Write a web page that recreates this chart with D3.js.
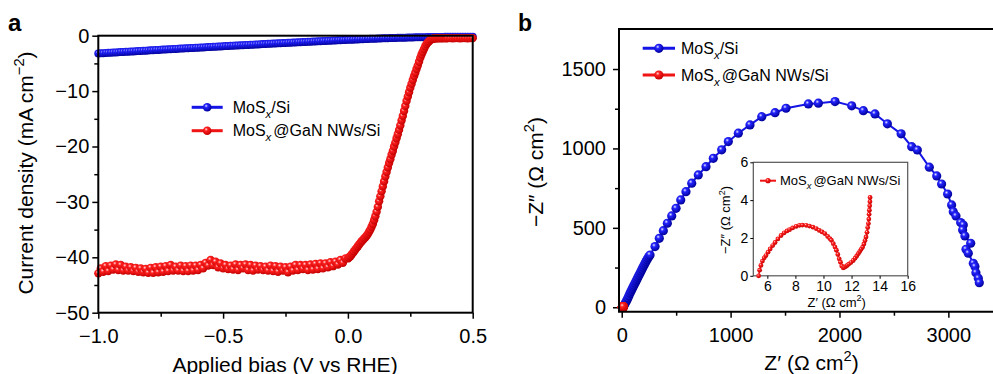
<!DOCTYPE html>
<html>
<head>
<meta charset="utf-8">
<script src="https://cdn.jsdelivr.net/npm/d3@7"></script>
<style>
  body { margin: 0; background: #fff; }
  svg { display: block; }
</style>
</head>
<body>
<svg id="fig" width="993" height="374"></svg>
<script>
// ---- panel a: LSV curves (V vs RHE, mA cm-2) ----
const biasBlue = [
  -1, -0.99, -0.98, -0.97, -0.96, -0.95, -0.94, -0.93, -0.92, -0.91,
  -0.9, -0.89, -0.88, -0.87, -0.86, -0.85, -0.84, -0.83, -0.82, -0.81,
  -0.8, -0.79, -0.78, -0.77, -0.76, -0.75, -0.74, -0.73, -0.72, -0.71,
  -0.7, -0.69, -0.68, -0.67, -0.66, -0.65, -0.64, -0.63, -0.62, -0.61,
  -0.6, -0.59, -0.58, -0.57, -0.56, -0.55, -0.54, -0.53, -0.52, -0.51,
  -0.5, -0.49, -0.48, -0.47, -0.46, -0.45, -0.44, -0.43, -0.42, -0.41,
  -0.4, -0.39, -0.38, -0.37, -0.36, -0.35, -0.34, -0.33, -0.32, -0.31,
  -0.3, -0.29, -0.28, -0.27, -0.26, -0.25, -0.24, -0.23, -0.22, -0.21,
  -0.2, -0.19, -0.18, -0.17, -0.16, -0.15, -0.14, -0.13, -0.12, -0.11,
  -0.1, -0.09, -0.08, -0.07, -0.06, -0.05, -0.04, -0.03, -0.02, -0.01,
  0, 0.01, 0.02, 0.03, 0.04, 0.05, 0.06, 0.07, 0.08, 0.09,
  0.1, 0.11, 0.12, 0.13, 0.14, 0.15, 0.16, 0.17, 0.18, 0.19,
  0.2, 0.21, 0.22, 0.23, 0.24, 0.25, 0.26, 0.27, 0.28, 0.29,
  0.3, 0.31, 0.32, 0.33, 0.34, 0.35, 0.36, 0.37, 0.38, 0.39,
  0.4, 0.41, 0.42, 0.43, 0.44, 0.45, 0.46, 0.47, 0.48, 0.49, 0.5
];
const jBlue = [
  -3.20, -3.17, -3.15, -3.12, -3.09, -3.07, -3.04, -3.01, -2.99, -2.96,
  -2.93, -2.91, -2.88, -2.85, -2.83, -2.80, -2.77, -2.75, -2.72, -2.70,
  -2.67, -2.64, -2.62, -2.59, -2.57, -2.54, -2.51, -2.49, -2.46, -2.44,
  -2.41, -2.38, -2.36, -2.33, -2.31, -2.28, -2.26, -2.23, -2.21, -2.18,
  -2.16, -2.13, -2.11, -2.08, -2.06, -2.03, -2.01, -1.98, -1.96, -1.93,
  -1.91, -1.88, -1.86, -1.83, -1.81, -1.79, -1.76, -1.74, -1.71, -1.69,
  -1.66, -1.64, -1.62, -1.59, -1.57, -1.54, -1.52, -1.50, -1.47, -1.45,
  -1.43, -1.40, -1.38, -1.36, -1.33, -1.31, -1.29, -1.26, -1.24, -1.22,
  -1.19, -1.17, -1.15, -1.12, -1.10, -1.08, -1.06, -1.03, -1.01, -0.99,
  -0.97, -0.94, -0.92, -0.90, -0.88, -0.85, -0.83, -0.81, -0.79, -0.77,
  -0.75, -0.73, -0.71, -0.69, -0.67, -0.65, -0.63, -0.61, -0.59, -0.57,
  -0.55, -0.53, -0.51, -0.50, -0.48, -0.46, -0.45, -0.43, -0.42, -0.40,
  -0.39, -0.37, -0.36, -0.35, -0.34, -0.32, -0.31, -0.30, -0.29, -0.28,
  -0.27, -0.26, -0.25, -0.25, -0.24, -0.23, -0.23, -0.22, -0.22, -0.21,
  -0.21, -0.20, -0.20, -0.20, -0.19, -0.19, -0.19, -0.18, -0.18, -0.18, -0.18
];
// red sweep is sampled finer through the onset
const biasRedFine = [
  0, 0.005, 0.01, 0.015, 0.02, 0.025, 0.03, 0.035, 0.04, 0.045,
  0.05, 0.055, 0.06, 0.065, 0.07, 0.075, 0.08, 0.085, 0.09, 0.095,
  0.1, 0.105, 0.11, 0.115, 0.12, 0.125, 0.13, 0.135, 0.14, 0.145,
  0.15, 0.155, 0.16, 0.165, 0.17, 0.175, 0.18, 0.185, 0.19, 0.195,
  0.2, 0.205, 0.21, 0.215, 0.22, 0.225, 0.23, 0.235, 0.24, 0.245,
  0.25, 0.255, 0.26, 0.265, 0.27, 0.275, 0.28, 0.285, 0.29, 0.295,
  0.3, 0.305, 0.31, 0.315, 0.32, 0.325, 0.33, 0.335, 0.34, 0.345,
  0.35, 0.355, 0.36, 0.365, 0.37, 0.375, 0.38, 0.385, 0.39, 0.395,
  0.4, 0.41, 0.42, 0.43, 0.44, 0.45, 0.46, 0.47, 0.48, 0.49, 0.5
];
const biasRed = biasBlue.slice(0, 100).concat(biasRedFine);
// plateau is noisy point to point, hence the zig-zag
const jRed = [
  -42.9, -42.0, -42.6, -41.6, -42.5, -41.5, -42.2, -41.3, -42.3, -41.4,
  -42.4, -41.7, -42.4, -41.8, -42.5, -41.9, -42.6, -42.0, -42.7, -42.1,
  -42.8, -41.9, -42.8, -41.8, -42.7, -41.7, -42.6, -41.6, -42.5, -41.4,
  -42.4, -41.7, -42.4, -41.5, -42.5, -41.6, -42.5, -41.5, -42.4, -41.5,
  -42.3, -41.4, -42.0, -41.0, -41.5, -40.5, -41.4, -40.8, -41.8, -41.1,
  -42.0, -41.4, -42.1, -41.5, -42.2, -41.3, -42.3, -41.4, -42.0, -41.3,
  -42.3, -41.4, -42.4, -41.5, -42.2, -41.6, -42.3, -41.7, -42.4, -41.5,
  -42.5, -41.6, -42.6, -41.7, -42.4, -41.8, -42.7, -41.7, -42.4, -41.4,
  -42.3, -41.4, -42.1, -41.4, -42.3, -41.3, -42.2, -41.2, -42.1, -41.1,
  -42.0, -41.1, -41.8, -40.9, -41.6, -40.8, -41.3, -40.5, -41.0, -40.2,
  -40.2, -40.0, -39.8, -39.5, -39.2, -38.9, -38.6, -38.3, -38.0, -37.7,
  -37.4, -37.1, -36.9, -36.6, -36.4, -36.1, -35.8, -35.4, -35.0, -34.5,
  -34.0, -33.3, -32.6, -31.8, -30.9, -29.9, -29.0, -28.1, -27.2, -26.3,
  -25.4, -24.6, -23.8, -23.0, -22.3, -21.5, -20.8, -20.0, -19.3, -18.5,
  -17.8, -17.0, -16.2, -15.3, -14.5, -13.6, -12.7, -11.8, -11.0, -10.2,
  -9.4, -8.7, -8.0, -7.3, -6.7, -6.0, -5.4, -4.7, -4.0, -3.4,
  -2.9, -2.4, -1.9, -1.5, -1.2, -1.0, -0.8, -0.65, -0.55, -0.5,
  -0.47, -0.45, -0.45, -0.44, -0.45, -0.44, -0.45, -0.44, -0.44, -0.45,
  -0.44, -0.44, -0.45, -0.44, -0.44, -0.45, -0.44, -0.44, -0.45, -0.44, -0.44
];
const biasTicks = [-1, -0.5, 0, 0.5];
const biasMinor = [-0.75, -0.25, 0.25];
const jTicks = [0, -10, -20, -30, -40, -50];
const jMinor = [-5, -15, -25, -35, -45];

// ---- panel b: Nyquist plots (ohm cm2) ----
const reBlue = [
  15, 22, 30, 40, 48, 57, 66, 76, 85, 94, 103, 112, 122, 131, 140, 149, 158, 168,
  177, 186, 195, 205, 214, 223, 232, 241, 250, 260,
  306, 345, 382, 419, 459, 499, 542, 590, 643, 703, 774, 841, 918, 979, 1071, 1178,
  1286, 1408, 1509, 1714, 1806, 1959, 2112, 2219, 2326, 2440, 2566, 2663, 2715, 2825,
  2893, 2938, 2993, 3030, 3045, 3070, 3113, 3137, 3131, 3152, 3205, 3162, 3183, 3229,
  3244, 3253, 3275, 3284
];
const imBlue = [
  4, 12, 22, 35, 46, 59, 72, 88, 100, 113, 126, 138, 151, 164, 176, 189, 201, 214,
  227, 239, 252, 265, 277, 288, 299, 310, 319, 329,
  382, 434, 482, 529, 575, 623, 676, 728, 781, 833, 885, 938, 991, 1043, 1096, 1148,
  1200, 1225, 1253, 1280, 1285, 1295, 1268, 1238, 1217, 1155, 1092, 1011, 990, 882,
  827, 776, 713, 644, 602, 575, 533, 518, 487, 449, 403, 365, 340, 277,
  256, 218, 183, 155
];
const reRed = [
  5.38, 5.45, 5.54, 5.65, 5.78, 5.9, 6.05, 6.2, 6.38, 6.55, 6.75, 6.98, 7.2, 7.4, 7.58,
  7.8, 8.05, 8.29, 8.5, 8.77, 9.0, 9.25, 9.49, 9.7, 9.9, 10.09, 10.3, 10.45, 10.56,
  10.7, 10.82, 10.92, 11.02, 11.12, 11.21, 11.3, 11.4, 11.5, 11.6, 11.69, 11.8, 11.95,
  12.12, 12.25, 12.37, 12.48, 12.58, 12.68, 12.79, 12.88, 12.96, 13.03, 13.1, 13.15,
  13.2, 13.23, 13.25, 13.27, 13.29, 13.31, 13.32
];
const imRed = [
  0.0, 0.3, 0.55, 0.78, 0.95, 1.07, 1.25, 1.42, 1.6, 1.76, 1.95, 2.13, 2.27, 2.37, 2.44,
  2.53, 2.61, 2.67, 2.68, 2.67, 2.63, 2.57, 2.49, 2.4, 2.32, 2.23, 2.08, 1.97, 1.88,
  1.7, 1.52, 1.35, 1.13, 0.9, 0.72, 0.52, 0.42, 0.45, 0.5, 0.55, 0.62, 0.7,
  0.81, 0.93, 1.05, 1.17, 1.28, 1.4, 1.52, 1.68, 1.86, 2.05, 2.3, 2.55,
  2.76, 3.0, 3.25, 3.47, 3.7, 3.92, 4.14
];
const reTicks = [0, 1000, 2000, 3000];
const reMinor = [500, 1500, 2500];
const imTicks = [0, 500, 1000, 1500];
const imMinor = [250, 750, 1250];
const insetReTicks = [6, 8, 10, 12, 14, 16];
const insetImTicks = [0, 2, 4, 6];

const FONT = '"Liberation Sans", Arial, Helvetica, sans-serif';
const BLUE = '#1414e6';
const RED = '#f01414';

const svg = d3.select('#fig').style('font-family', FONT);
const defs = svg.append('defs');

// shaded ball markers like the original
function ball(id, hi, mid, edge) {
  let g = defs.append('radialGradient').attr('id', id)
    .attr('cx', '38%').attr('cy', '34%').attr('r', '66%');
  g.append('stop').attr('offset', '0%').attr('stop-color', hi);
  g.append('stop').attr('offset', '30%').attr('stop-color', mid);
  g.append('stop').attr('offset', '100%').attr('stop-color', edge);
}
ball('ballBlue', '#e6e6ff', '#2424ff', '#00009a');
ball('ballRed', '#ffdcdc', '#ff2020', '#c40000');

function axis(g, ax, transform, fs) {
  let a = g.append('g').attr('transform', transform).call(ax);
  a.select('.domain').remove();
  a.selectAll('line').attr('stroke', '#000').attr('stroke-width', 1.5);
  a.selectAll('text').attr('fill', '#000')
    .style('font-size', fs + 'px').style('font-family', FONT);
  return a;
}

// "MoSx" with italic subscript x
function mosx(t, rest, fs) {
  t.append('tspan').text('MoS');
  t.append('tspan').attr('font-style', 'italic').attr('font-size', fs * 0.72)
    .attr('dy', fs * 0.3).text('x');
  t.append('tspan').attr('dy', -fs * 0.3).attr('dx', rest[0] === '@' ? 2 : 0).text(rest);
}

// text with a superscript chunk then a tail
function supText(t, head, sup, tail, fs) {
  t.append('tspan').text(head);
  t.append('tspan').attr('font-size', fs * 0.7).attr('dy', -fs * 0.42).text(sup);
  t.append('tspan').attr('dy', fs * 0.42).text(tail);
}

function legendRow(g, x0, x1, y, fill, stroke, r, label, fs, lw, gap) {
  g.append('line').attr('x1', x0).attr('x2', x1).attr('y1', y).attr('y2', y)
    .attr('stroke', stroke).attr('stroke-width', lw);
  g.append('circle').attr('cx', (x0 + x1) / 2).attr('cy', y).attr('r', r).attr('fill', fill);
  let t = g.append('text').attr('x', x1 + gap).attr('y', y + fs * 0.36)
    .style('font-size', fs + 'px').attr('fill', '#000');
  mosx(t, label, fs);
}

/* ================= panel a ================= */
const xA = d3.scaleLinear().domain([-1, 0.5]).range([98.3, 472.7]);
const yA = d3.scaleLinear().domain([-50, 0]).range([312.7, 35.7]);
const gA = svg.append('g').attr('class', 'panelA');

axis(gA, d3.axisBottom(xA).tickValues(biasTicks).tickFormat(d3.format('.1f')).tickSize(6).tickPadding(10),
  `translate(0,${yA(-50)})`, 20);
axis(gA, d3.axisBottom(xA).tickValues(biasMinor).tickFormat('').tickSize(4),
  `translate(0,${yA(-50)})`, 20);
axis(gA, d3.axisLeft(yA).tickValues(jTicks).tickFormat(d3.format('d')).tickSize(6).tickPadding(3),
  `translate(${xA(-1)},0)`, 20);
axis(gA, d3.axisLeft(yA).tickValues(jMinor).tickFormat('').tickSize(4),
  `translate(${xA(-1)},0)`, 20);

const ptsBlueA = biasBlue.map((v, i) => [v, jBlue[i]]);
const ptsRedA = biasRed.map((v, i) => [v, jRed[i]]);
const lineA = d3.line().x(d => xA(d[0])).y(d => yA(d[1]));

gA.append('path').datum(ptsBlueA).attr('d', lineA)
  .attr('fill', 'none').attr('stroke', BLUE).attr('stroke-width', 2);
gA.append('g').selectAll('circle').data(ptsBlueA).enter().append('circle')
  .attr('cx', d => xA(d[0])).attr('cy', d => yA(d[1])).attr('r', 4)
  .attr('fill', 'url(#ballBlue)');
gA.append('path').datum(ptsRedA).attr('d', lineA)
  .attr('fill', 'none').attr('stroke', RED).attr('stroke-width', 2);
gA.append('g').selectAll('circle').data(ptsRedA).enter().append('circle')
  .attr('cx', d => xA(d[0])).attr('cy', d => yA(d[1])).attr('r', 4.2)
  .attr('fill', 'url(#ballRed)');

gA.append('rect').attr('x', xA(-1)).attr('y', yA(0))
  .attr('width', xA(0.5) - xA(-1)).attr('height', yA(-50) - yA(0))
  .attr('fill', 'none').attr('stroke', '#000').attr('stroke-width', 2);

legendRow(gA, 191.7, 222.7, 107.3, 'url(#ballBlue)', BLUE, 4.3, '/Si', 16, 3, 10);
legendRow(gA, 191.7, 222.7, 130.7, 'url(#ballRed)', RED, 4.3, '@GaN NWs/Si', 16, 3, 10);

let tA = gA.append('text').attr('text-anchor', 'middle')
  .attr('transform', 'translate(33,173) rotate(-90)').style('font-size', '21px');
supText(tA, 'Current density (mA cm', '\u22122', ')', 21);
gA.append('text').attr('x', 285).attr('y', 371.5).attr('text-anchor', 'middle')
  .style('font-size', '21px').text('Applied bias (V vs RHE)');
gA.append('text').attr('x', 8).attr('y', 30.5).style('font-size', '24px')
  .style('font-weight', 'bold').text('a');

/* ================= panel b ================= */
const xB = d3.scaleLinear().domain([-25, 3410]).range([619, 993]);
const yB = d3.scaleLinear().domain([-28, 1752]).range([311.7, 29]);
const gB = svg.append('g').attr('class', 'panelB');

axis(gB, d3.axisBottom(xB).tickValues(reTicks).tickFormat(d3.format('d')).tickSize(6).tickPadding(10),
  `translate(0,${yB(-28)})`, 20);
axis(gB, d3.axisBottom(xB).tickValues(reMinor).tickFormat('').tickSize(4),
  `translate(0,${yB(-28)})`, 20);
axis(gB, d3.axisLeft(yB).tickValues(imTicks).tickFormat(d3.format('d')).tickSize(6).tickPadding(7),
  `translate(${xB(-25)},0)`, 20);
axis(gB, d3.axisLeft(yB).tickValues(imMinor).tickFormat('').tickSize(4),
  `translate(${xB(-25)},0)`, 20);

const ptsBlueB = reBlue.map((v, i) => [v, imBlue[i]]);
const ptsRedB = reRed.map((v, i) => [v, imRed[i]]);
const lineB = d3.line().x(d => xB(d[0])).y(d => yB(d[1]));

gB.append('path').datum(ptsBlueB).attr('d', lineB)
  .attr('fill', 'none').attr('stroke', BLUE).attr('stroke-width', 2);
gB.append('g').selectAll('circle').data(ptsBlueB).enter().append('circle')
  .attr('cx', d => xB(d[0])).attr('cy', d => yB(d[1])).attr('r', 4.6)
  .attr('fill', 'url(#ballBlue)');
gB.append('g').selectAll('circle').data(ptsRedB).enter().append('circle')
  .attr('cx', d => xB(d[0])).attr('cy', d => yB(d[1])).attr('r', 4.6)
  .attr('fill', 'url(#ballRed)');

gB.append('path')
  .attr('d', `M993,${yB(1752)}H${xB(-25)}V${yB(-28)}H993`)
  .attr('fill', 'none').attr('stroke', '#000').attr('stroke-width', 2);

legendRow(gB, 642.7, 675, 48.3, 'url(#ballBlue)', BLUE, 4.6, '/Si', 16, 3, 6);
legendRow(gB, 642.7, 675, 75, 'url(#ballRed)', RED, 4.6, '@GaN NWs/Si', 16, 3, 6);

let tBy = gB.append('text').attr('text-anchor', 'middle')
  .attr('transform', 'translate(542.6,172) rotate(-90)').style('font-size', '21px');
supText(tBy, '\u2212Z\u2033 (\u03A9 cm', '2', ')', 21);
let tBx = gB.append('text').attr('x', 811.5).attr('y', 370).attr('text-anchor', 'middle')
  .style('font-size', '21px');
supText(tBx, 'Z\u2032 (\u03A9 cm', '2', ')', 21);
gB.append('text').attr('x', 518).attr('y', 30.7).style('font-size', '23px')
  .style('font-weight', 'bold').text('b');

/* ---- inset ---- */
const xI = d3.scaleLinear().domain([5, 16]).range([753.3, 907.7]);
const yI = d3.scaleLinear().domain([0, 6]).range([275.8, 162.3]);
const gI = svg.append('g').attr('class', 'inset');

gI.append('rect').attr('x', xI(5)).attr('y', yI(6))
  .attr('width', xI(16) - xI(5)).attr('height', yI(0) - yI(6))
  .attr('fill', '#fff').attr('stroke', '#555').attr('stroke-width', 1.2);

axis(gI, d3.axisBottom(xI).tickValues(insetReTicks).tickFormat(d3.format('d')).tickSize(3).tickPadding(2),
  `translate(0,${yI(0)})`, 14).selectAll('line').attr('stroke-width', 1);
axis(gI, d3.axisLeft(yI).tickValues(insetImTicks).tickFormat(d3.format('d')).tickSize(3).tickPadding(2),
  `translate(${xI(5)},0)`, 14).selectAll('line').attr('stroke-width', 1);

const lineI = d3.line().x(d => xI(d[0])).y(d => yI(d[1]));
gI.append('path').datum(ptsRedB).attr('d', lineI)
  .attr('fill', 'none').attr('stroke', RED).attr('stroke-width', 1.5);
gI.append('g').selectAll('circle').data(ptsRedB).enter().append('circle')
  .attr('cx', d => xI(d[0])).attr('cy', d => yI(d[1])).attr('r', 2.4)
  .attr('fill', 'url(#ballRed)');

legendRow(gI, 760, 776, 180.7, 'url(#ballRed)', RED, 2.6, '@GaN NWs/Si', 13, 2, 4);

let tIy = gI.append('text').attr('text-anchor', 'middle')
  .attr('transform', 'translate(730,220) rotate(-90)').style('font-size', '13px');
supText(tIy, '\u2212Z\u2033 (\u03A9 cm', '2', ')', 13);
let tIx = gI.append('text').attr('x', 836.7).attr('y', 306.5).attr('text-anchor', 'middle')
  .style('font-size', '13px');
supText(tIx, 'Z\u2032 (\u03A9 cm', '2', ')', 13);
</script>
</body>
</html>
